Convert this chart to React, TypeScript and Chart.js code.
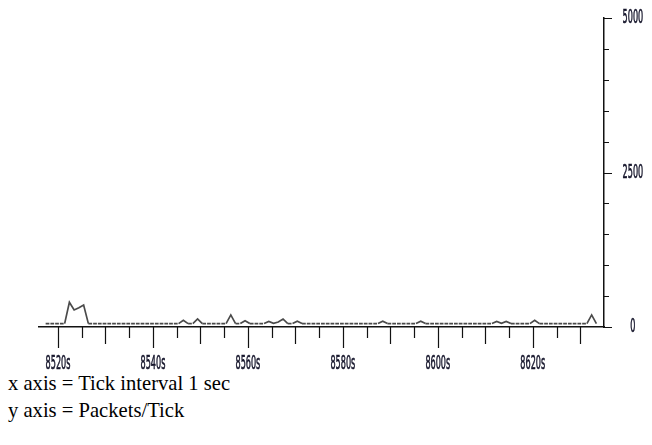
import React, { useEffect, useRef } from "react";
import { Chart, registerables, LinearScale } from "chart.js";

// ---- data ----
const START_TIME = 8517.4; // seconds, first sample
const PACKETS: number[] = [
  55, 55, 55, 55, 55, 400, 275, 310, 355, 55,
  55, 55, 55, 55, 55, 55, 55, 55, 55, 55,
  55, 55, 55, 55, 55, 55, 55, 55, 55, 110,
  55, 55, 130, 55, 55, 55, 55, 55, 55, 195,
  55, 55, 100, 55, 55, 55, 55, 90, 60, 80,
  130, 55, 55, 95, 55, 55, 55, 55, 55, 55,
  55, 55, 55, 55, 55, 55, 55, 55, 55, 55,
  55, 95, 55, 55, 55, 55, 55, 55, 55, 95,
  55, 55, 55, 55, 55, 55, 55, 55, 55, 55,
  55, 55, 55, 55, 55, 90, 60, 90, 55, 55,
  55, 55, 55, 110, 55, 55, 55, 55, 55, 55,
  55, 55, 55, 55, 55, 195, 55,
];
const X_MIN = 8516;
const X_MAX = 8635;
const X_TICK_VALUES = [
  8520, 8525, 8530, 8535, 8540, 8545, 8550, 8555, 8560, 8565, 8570, 8575,
  8580, 8585, 8590, 8595, 8600, 8605, 8610, 8615, 8620, 8625, 8630,
];
const X_LABELED = [8520, 8540, 8560, 8580, 8600, 8620];
const Y_MIN = 0;
const Y_MAX = 5000;
const Y_STEP = 500;
const Y_LABELED = [0, 2500, 5000];
const CAPTION_LINES = ["x axis = Tick interval 1 sec", "y axis = Packets/Tick"];

// ---- style ----
const LABEL_SCALE_X = 0.45;
const LABEL_FONT = '"Liberation Sans Narrow", "DejaVu Sans Condensed", sans-serif';
const LABEL_COLOR = "#14142a";
const AXIS_COLOR = "#111";
const LINE_COLOR = "#4a4a4a";

class NarrowLinearScale extends LinearScale {
  static id = "narrowLinear";
  drawLabels(chartArea: any) {
    const optionTicks = (this as any).options.ticks;
    if (!optionTicks.display) return;
    const ctx: CanvasRenderingContext2D = (this as any).ctx;
    const items = (this as any).getLabelItems(chartArea);
    for (const item of items) {
      const o = item.options;
      if (!item.label) continue;
      ctx.save();
      ctx.font = item.font.string;
      ctx.translate(o.translation[0], o.translation[1]);
      ctx.scale(LABEL_SCALE_X, 1);
      ctx.fillStyle = o.color;
      ctx.strokeStyle = o.color;
      ctx.lineWidth = 0.6;
      ctx.textAlign = o.textAlign;
      ctx.textBaseline = o.textBaseline;
      ctx.fillText(String(item.label), 0, item.textOffset);
      ctx.strokeText(String(item.label), 0, item.textOffset);
      ctx.restore();
    }
  }
}

Chart.register(...registerables, NarrowLinearScale);

const tickMarks = {
  id: "tickMarks",
  afterDraw(chart: any) {
    const { ctx, chartArea } = chart;
    const xs = chart.scales.x;
    const ys = chart.scales.y;
    ctx.save();
    ctx.strokeStyle = AXIS_COLOR;
    ctx.lineWidth = 1.2;
    ctx.beginPath();
    for (const t of xs.ticks) {
      const v = t.value;
      const px = Math.round(xs.getPixelForValue(v)) + 0.5;
      const len = v % 20 === 0 ? 21 : v % 10 === 0 ? 17 : 11;
      ctx.moveTo(px, chartArea.bottom);
      ctx.lineTo(px, chartArea.bottom + len);
    }
    for (const t of ys.ticks) {
      const v = t.value;
      const py = Math.round(ys.getPixelForValue(v)) + 0.5;
      const len = v % 2500 === 0 ? 8 : 5;
      ctx.moveTo(chartArea.right, py);
      ctx.lineTo(chartArea.right + len, py);
    }
    ctx.stroke();
    ctx.restore();
  },
};

export default function App() {
  const ref = useRef<HTMLCanvasElement | null>(null);
  useEffect(() => {
    if (!ref.current) return;
    const data = PACKETS.map((y, i) => ({ x: START_TIME + i, y }));
    const chart = new Chart(ref.current, {
      type: "line",
      data: {
        datasets: [
          {
            data,
            borderColor: LINE_COLOR,
            borderWidth: 1.7,
            pointRadius: 0,
            tension: 0,
            segment: {
              borderDash: (c: any) =>
                c.p0.parsed.y === c.p1.parsed.y ? [3.75, 1] : undefined,
            },
          },
        ],
      },
      options: {
        animation: false,
        responsive: false,
        devicePixelRatio: 1,
        layout: { padding: { left: 31, top: 0, right: 0, bottom: 0 } },
        plugins: { legend: { display: false }, tooltip: { enabled: false } },
        scales: {
          x: {
            type: "narrowLinear" as any,
            min: X_MIN,
            max: X_MAX,
            afterBuildTicks: (s: any) => {
              s.ticks = X_TICK_VALUES.map((value) => ({ value }));
            },
            afterFit: (s: any) => {
              s.height = 43;
              s.paddingLeft = 0;
              s.paddingRight = 0;
            },
            grid: { display: false, drawTicks: false },
            border: { display: true, color: AXIS_COLOR, width: 1.5 },
            ticks: {
              autoSkip: false,
              maxRotation: 0,
              padding: 25,
              color: LABEL_COLOR,
              font: { family: LABEL_FONT, size: 20 },
              callback: (v: any) => (X_LABELED.includes(Number(v)) ? `${v}s` : ""),
            },
          },
          y: {
            type: "narrowLinear" as any,
            position: "right",
            min: Y_MIN,
            max: Y_MAX,
            afterFit: (s: any) => {
              s.width = 48;
              s.paddingTop = 10;
              s.paddingBottom = 0;
            },
            grid: { display: false, drawTicks: false },
            border: { display: true, color: AXIS_COLOR, width: 1.5 },
            ticks: {
              stepSize: Y_STEP,
              autoSkip: false,
              crossAlign: "center",
              padding: 6,
              color: LABEL_COLOR,
              font: { family: LABEL_FONT, size: 20 },
              callback: (v: any) => (Y_LABELED.includes(Number(v)) ? String(v) : ""),
            },
          },
        },
      },
      plugins: [tickMarks],
    });
    return () => chart.destroy();
  }, []);

  return (
    <div>
      <canvas ref={ref} width={644} height={362} style={{ display: "block" }} />
      <div
        style={{
          fontFamily: '"Liberation Serif", "Times New Roman", serif',
          fontSize: "20.6px",
          lineHeight: "27px",
          color: "#000",
        }}
      >
        {CAPTION_LINES.map((l) => (
          <div key={l}>{l}</div>
        ))}
      </div>
    </div>
  );
}
